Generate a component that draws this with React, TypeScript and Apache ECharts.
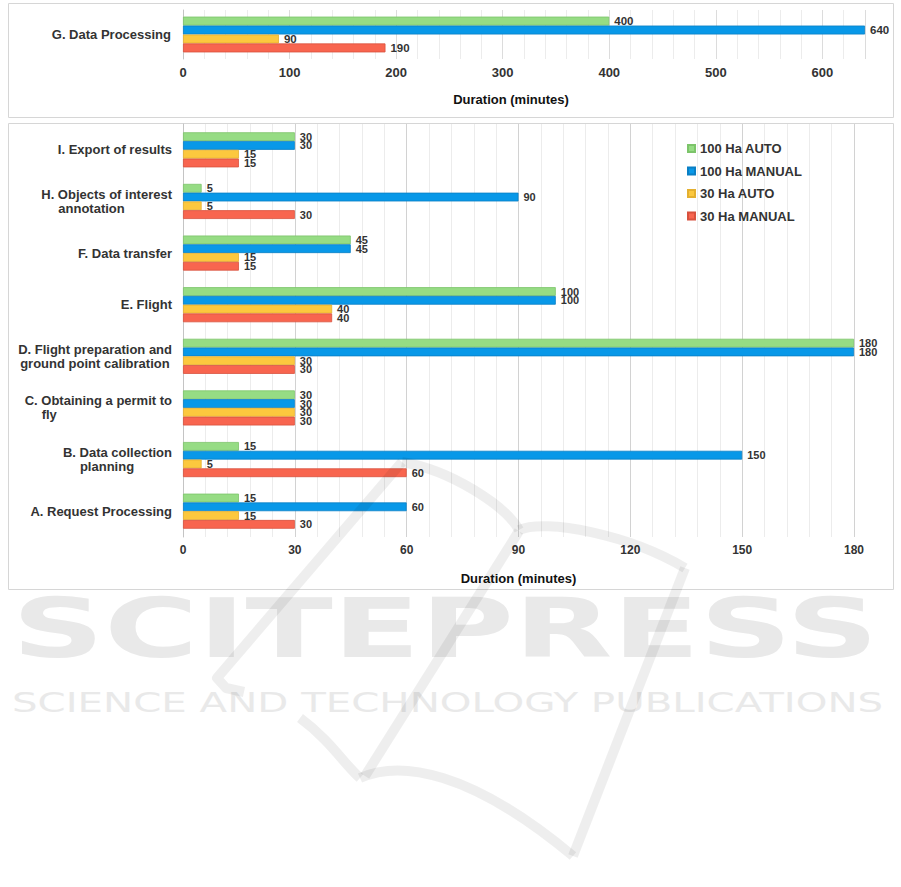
import React, { useEffect, useRef } from 'react';
import * as echarts from 'echarts';

const seriesNames = ['100 Ha AUTO', '100 Ha MANUAL', '30 Ha AUTO', '30 Ha MANUAL'];
const seriesColors = ['#96dc84', '#0898e8', '#fcc83e', '#f8654f'];
const seriesBorders = ['#7cc46a', '#0a7fc4', '#e4b030', '#d8513e'];

// Top panel
const topCategories = ['G. Data Processing'];
const topAuto100 = [400];
const topManual100 = [640];
const topAuto30 = [90];
const topManual30 = [190];
const topMax = 640;
const topInterval = 100;

// Bottom panel (bottom to top)
const categories = [
  'A. Request Processing',
  'B. Data collection\nplanning',
  'C. Obtaining a permit to\nfly',
  'D. Flight preparation and\nground point calibration',
  'E. Flight',
  'F. Data transfer',
  'H. Objects of interest\nannotation',
  'I. Export of results',
];
const auto100 = [15, 15, 30, 180, 100, 45, 5, 30];
const manual100 = [60, 150, 30, 180, 100, 45, 90, 30];
const auto30 = [15, 5, 30, 30, 40, 15, 5, 15];
const manual30 = [30, 60, 30, 30, 40, 15, 30, 15];
const bottomMax = 180;
const bottomInterval = 30;

const axisTitle = 'Duration (minutes)';

const FONT = '"Liberation Sans", Arial, Helvetica, sans-serif';
const secondLineIndent: Record<string, number> = {
  'D. Flight preparation and\nground point calibration': 2,
};

function catLabel(v: string) {
  const parts = v.split('\n');
  if (parts.length < 2) return `{a|${parts[0]}}`;
  const ind = secondLineIndent[v] ?? 17;
  return `{a|${parts[0]}}\n{${ind === 2 ? 'c' : 'b'}|${parts[1]}}`;
}

export default function App() {
  const ref = useRef<HTMLDivElement>(null);
  useEffect(() => {
    const chart = echarts.init(ref.current!, undefined, { renderer: 'svg', width: 901, height: 887 });
    const labelStyle = {
      show: true,
      position: 'right',
      distance: 5,
      fontSize: 11,
      fontWeight: 'bold',
      color: '#333',
      fontFamily: FONT,
    };
    const topData = [topAuto100, topManual100, topAuto30, topManual30];
    const botData = [auto100, manual100, auto30, manual30];
    const series: any[] = [];
    seriesNames.forEach((name, i) => {
      series.push({
        type: 'bar',
        name,
        xAxisIndex: 0,
        yAxisIndex: 0,
        data: topData[i],
        barGap: '0%',
        barCategoryGap: '27%',
        itemStyle: { color: seriesColors[i], borderColor: seriesBorders[i], borderWidth: 0.8 },
        label: { ...labelStyle, fontSize: 11.5 },
      });
    });
    seriesNames.forEach((name, i) => {
      series.push({
        type: 'bar',
        name,
        xAxisIndex: 1,
        yAxisIndex: 1,
        data: botData[i],
        barGap: '0%',
        barCategoryGap: '32%',
        itemStyle: { color: seriesColors[i], borderColor: seriesBorders[i], borderWidth: 0.8 },
        label: labelStyle,
      });
    });

    const wm = 'rgba(0,0,0,0.065)';
    const lw = 10;
    const option: any = {
      animation: false,
      backgroundColor: '#fff',
      textStyle: { fontFamily: FONT },
      grid: [
        { left: 183, width: 682, top: 10, height: 49 },
        { left: 183, width: 671, top: 124, height: 413 },
      ],
      legend: {
        data: seriesNames,
        orient: 'vertical',
        left: 682,
        top: 137,
        itemWidth: 7,
        itemHeight: 7,
        itemGap: 9.5,
        icon: 'rect',
        textStyle: { fontSize: 13, fontWeight: 'bold', color: '#333', fontFamily: FONT },
      },
      xAxis: [
        {
          gridIndex: 0,
          type: 'value',
          min: 0,
          max: topMax,
          interval: topInterval,
          axisLine: { show: false },
          axisTick: { show: false },
          axisLabel: { fontSize: 13, fontWeight: 'bold', color: '#333', margin: 7, showMaxLabel: false, fontFamily: FONT },
          splitLine: { show: true, lineStyle: { color: '#dcdcdc', width: 1 } },
          minorTick: { show: false, splitNumber: 5 },
          minorSplitLine: { show: true, lineStyle: { color: '#ececec', width: 1 } },
          name: axisTitle,
          nameLocation: 'middle',
          nameGap: 34,
          nameTextStyle: { fontSize: 13, fontWeight: 'bold', color: '#111', padding: [0, 26, 0, 0], fontFamily: FONT },
        },
        {
          gridIndex: 1,
          type: 'value',
          min: 0,
          max: bottomMax,
          interval: bottomInterval,
          axisLine: { show: false },
          axisTick: { show: false },
          axisLabel: { fontSize: 12, fontWeight: 'bold', color: '#333', margin: 7, fontFamily: FONT },
          splitLine: { show: true, lineStyle: { color: '#d2d2d2', width: 1 } },
          minorTick: { show: false, splitNumber: 5 },
          minorSplitLine: { show: true, lineStyle: { color: '#ececec', width: 1 } },
          name: axisTitle,
          nameLocation: 'middle',
          nameGap: 35,
          nameTextStyle: { fontSize: 13, fontWeight: 'bold', color: '#111', fontFamily: FONT },
        },
      ],
      yAxis: [
        {
          gridIndex: 0,
          type: 'category',
          data: topCategories,
          axisLine: { show: true, lineStyle: { color: '#c4c4c4' } },
          axisTick: { show: false },
          axisLabel: { fontSize: 13, fontWeight: 'bold', color: '#333', margin: 12, fontFamily: FONT },
        },
        {
          gridIndex: 1,
          type: 'category',
          data: categories,
          axisLine: { show: true, lineStyle: { color: '#c4c4c4' } },
          axisTick: { show: false },
          axisLabel: {
            margin: 11,
            formatter: catLabel,
            rich: {
              a: { fontSize: 13, fontWeight: 'bold', color: '#333', lineHeight: 14, fontFamily: FONT },
              b: { fontSize: 13, fontWeight: 'bold', color: '#333', lineHeight: 14, align: 'left', padding: [0, 0, 0, 17], fontFamily: FONT },
              c: { fontSize: 13, fontWeight: 'bold', color: '#333', lineHeight: 14, align: 'left', padding: [0, 0, 0, 2], fontFamily: FONT },
            },
          },
        },
      ],
      series,
      graphic: [
        { type: 'rect', silent: true, z: -1, shape: { x: 8.5, y: 3.5, width: 885, height: 114 }, style: { fill: 'none', stroke: '#d6d6d6', lineWidth: 1 } },
        { type: 'rect', silent: true, z: -1, shape: { x: 8.5, y: 123.5, width: 885, height: 466 }, style: { fill: 'none', stroke: '#d6d6d6', lineWidth: 1 } },
        {
          type: 'text', silent: true, z: -2, x: 12, y: 628, scaleX: 1.56, scaleY: 1,
          style: { text: 'SCITEPRESS', x: 0, y: 0, fill: '#e9e9e9', font: 'bold 82px "DejaVu Sans"', textAlign: 'left', textVerticalAlign: 'middle' },
        },
        {
          type: 'text', silent: true, z: -2, x: 12, y: 703, scaleX: 1.55, scaleY: 1,
          style: { text: 'SCIENCE AND TECHNOLOGY PUBLICATIONS', x: 0, y: 0, fill: '#e9e9e9', font: '26px "DejaVu Sans"', textAlign: 'left', textVerticalAlign: 'middle' },
        },
        { type: 'polyline', silent: true, z: 100, shape: { points: [[402, 462], [217, 678], [226, 688], [244, 692]] }, style: { fill: 'none', stroke: wm, lineWidth: lw, lineJoin: 'round' } },
        { type: 'bezierCurve', silent: true, z: 100, shape: { x1: 402, y1: 462, cpx1: 450, cpy1: 470, cpx2: 505, cpy2: 505, x2: 519, y2: 530 }, style: { fill: 'none', stroke: wm, lineWidth: lw } },
        { type: 'bezierCurve', silent: true, z: 100, shape: { x1: 519, y1: 530, cpx1: 545, cpy1: 518, cpx2: 630, cpy2: 535, x2: 685, y2: 568 }, style: { fill: 'none', stroke: wm, lineWidth: lw } },
        { type: 'line', silent: true, z: 100, shape: { x1: 685, y1: 568, x2: 573, y2: 856 }, style: { stroke: wm, lineWidth: lw } },
        { type: 'line', silent: true, z: 100, shape: { x1: 519, y1: 531, x2: 365, y2: 776 }, style: { stroke: wm, lineWidth: lw } },
        { type: 'bezierCurve', silent: true, z: 100, shape: { x1: 300, y1: 718, cpx1: 330, cpy1: 740, cpx2: 345, cpy2: 765, x2: 360, y2: 778 }, style: { fill: 'none', stroke: wm, lineWidth: lw } },
        { type: 'bezierCurve', silent: true, z: 100, shape: { x1: 360, y1: 778, cpx1: 400, cpy1: 760, cpx2: 470, cpy2: 770, x2: 573, y2: 856 }, style: { fill: 'none', stroke: wm, lineWidth: lw } },
      ],
    };
    chart.setOption(option);
    return () => chart.dispose();
  }, []);
  return <div ref={ref} style={{ position: 'fixed', left: 0, top: 0, width: 901, height: 887, background: '#fff' }} />;
}
